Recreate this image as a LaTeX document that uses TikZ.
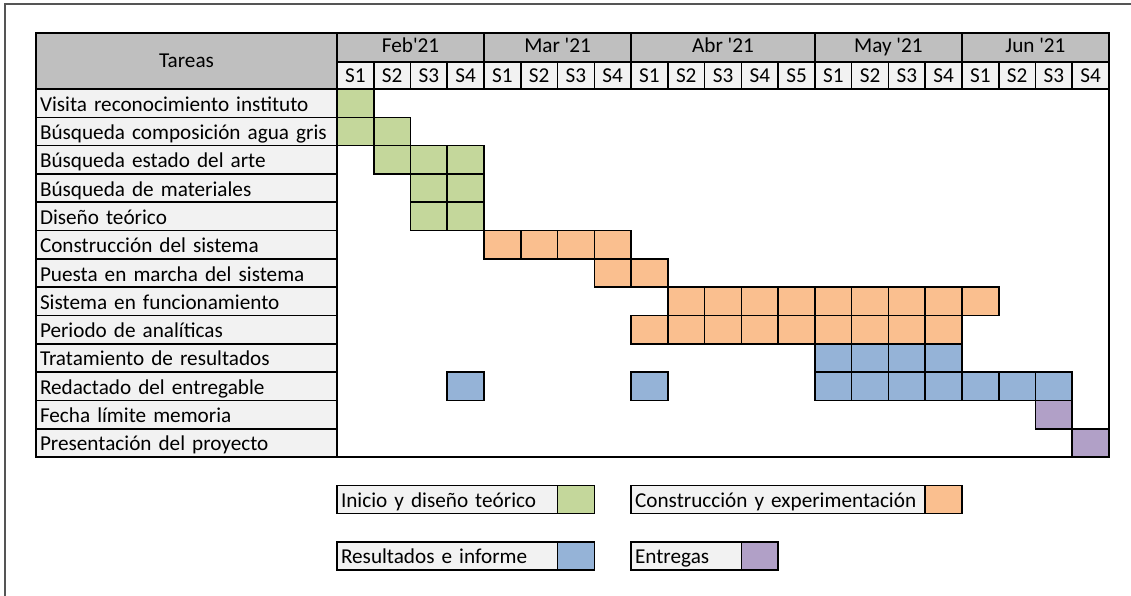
\documentclass[tikz,border=0pt]{standalone}
\usepackage{fontspec}
\setmainfont{Carlito}
\definecolor{hdrgray}{HTML}{BFBFBF}
\definecolor{cellgray}{HTML}{F2F2F2}
\definecolor{cgreen}{HTML}{C4D79B}
\definecolor{corange}{HTML}{FABF8F}
\definecolor{cblue}{HTML}{95B3D7}
\definecolor{cpurple}{HTML}{B1A0C7}
\definecolor{framegray}{HTML}{555555}
\begin{document}
\begin{tikzpicture}[x=1pt,y=-1pt,
  font=\fontsize{21.2pt}{24pt}\selectfont,
  box/.style={draw=black, line width=1.6pt, anchor=north west, inner sep=0pt, outer sep=0pt},
  hdrbox/.style={box, fill=hdrgray},
  subbox/.style={box, fill=cellgray, minimum height=27pt, minimum width=36.762pt, text height=15pt, text depth=0pt},
  taskbox/.style={box, fill=cellgray, minimum height=28.31pt, minimum width=301pt, text width=293pt, align=left, inner xsep=4pt, text height=16pt, text depth=0pt},
  barcell/.style={box, minimum height=28.31pt, minimum width=36.762pt},
  legtext/.style={box, fill=cellgray, minimum height=28.31pt, align=left, inner xsep=4pt, text height=15pt, text depth=0pt},
  legswatch/.style={box, minimum height=28.31pt, minimum width=36.762pt}
]
\useasboundingbox (0,0) rectangle (1131,596);
\pgfmathsetmacro{\cw}{36.762}
\pgfmathsetmacro{\rh}{28.31}
% outer frame
\draw[line width=2pt, framegray] (5,596) -- (5,4) -- (1131,4);
% chart area
\node[box, minimum width=772pt, minimum height=368pt] (chart) at (337,89) {};
% header
\node[hdrbox, minimum width=301pt, minimum height=56pt, text height=14pt, text depth=0pt] (tareas) at (36,33) {Tareas};
\foreach \m/\a/\n [count=\k] in {Feb\textquotesingle21/0/4, Mar \textquotesingle21/4/4, Abr \textquotesingle21/8/5, May \textquotesingle21/13/4, Jun \textquotesingle21/17/4}
  \node[hdrbox, minimum width=\n*\cw pt, minimum height=29pt, text height=11pt, text depth=0pt] (m\k) at ({337+\a*\cw},33) {\m};
\foreach \n [count=\i from 0] in {1,2,3,4,1,2,3,4,1,2,3,4,5,1,2,3,4,1,2,3,4}
  \node[subbox] (s\i) at ({337+\i*\cw},62) {S\n};
% task column
\foreach \t [count=\r from 0] in {Visita reconocimiento instituto, Búsqueda composición agua gris, Búsqueda estado del arte, Búsqueda de materiales, Diseño teórico, Construcción del sistema, Puesta en marcha del sistema, Sistema en funcionamiento, Periodo de analíticas, Tratamiento de resultados, Redactado del entregable, Fecha límite memoria, Presentación del proyecto}
  \node[taskbox] (t\r) at (36,{89+\r*\rh}) {\t};
% bars
\foreach \r/\c/\col in {0/0/cgreen, 1/0/cgreen, 1/1/cgreen, 2/1/cgreen, 2/2/cgreen, 2/3/cgreen, 3/2/cgreen, 3/3/cgreen, 4/2/cgreen, 4/3/cgreen,
  5/4/corange, 5/5/corange, 5/6/corange, 5/7/corange, 6/7/corange, 6/8/corange,
  7/9/corange, 7/10/corange, 7/11/corange, 7/12/corange, 7/13/corange, 7/14/corange, 7/15/corange, 7/16/corange, 7/17/corange,
  8/8/corange, 8/9/corange, 8/10/corange, 8/11/corange, 8/12/corange, 8/13/corange, 8/14/corange, 8/15/corange, 8/16/corange,
  9/13/cblue, 9/14/cblue, 9/15/cblue, 9/16/cblue,
  10/3/cblue, 10/8/cblue, 10/13/cblue, 10/14/cblue, 10/15/cblue, 10/16/cblue, 10/17/cblue, 10/18/cblue, 10/19/cblue,
  11/19/cpurple, 12/20/cpurple}
  \node[barcell, fill=\col] (b\r-\c) at ({337+\c*\cw},{89+\r*\rh}) {};
% legend
\node[legtext, minimum width=6*\cw pt, text width={6*\cw-8}] (l1) at (337,{89+14*\rh}) {Inicio y diseño teórico};
\node[legswatch, fill=cgreen] (l1s) at ({337+6*\cw},{89+14*\rh}) {};
\node[legtext, minimum width=8*\cw pt, text width={8*\cw-8}] (l2) at ({337+8*\cw},{89+14*\rh}) {Construcción y experimentación};
\node[legswatch, fill=corange] (l2s) at ({337+16*\cw},{89+14*\rh}) {};
\node[legtext, minimum width=6*\cw pt, text width={6*\cw-8}] (l3) at (337,{89+16*\rh}) {Resultados e informe};
\node[legswatch, fill=cblue] (l3s) at ({337+6*\cw},{89+16*\rh}) {};
\node[legtext, minimum width=3*\cw pt, text width={3*\cw-8}] (l4) at ({337+8*\cw},{89+16*\rh}) {Entregas};
\node[legswatch, fill=cpurple] (l4s) at ({337+11*\cw},{89+16*\rh}) {};
\end{tikzpicture}
\end{document}
